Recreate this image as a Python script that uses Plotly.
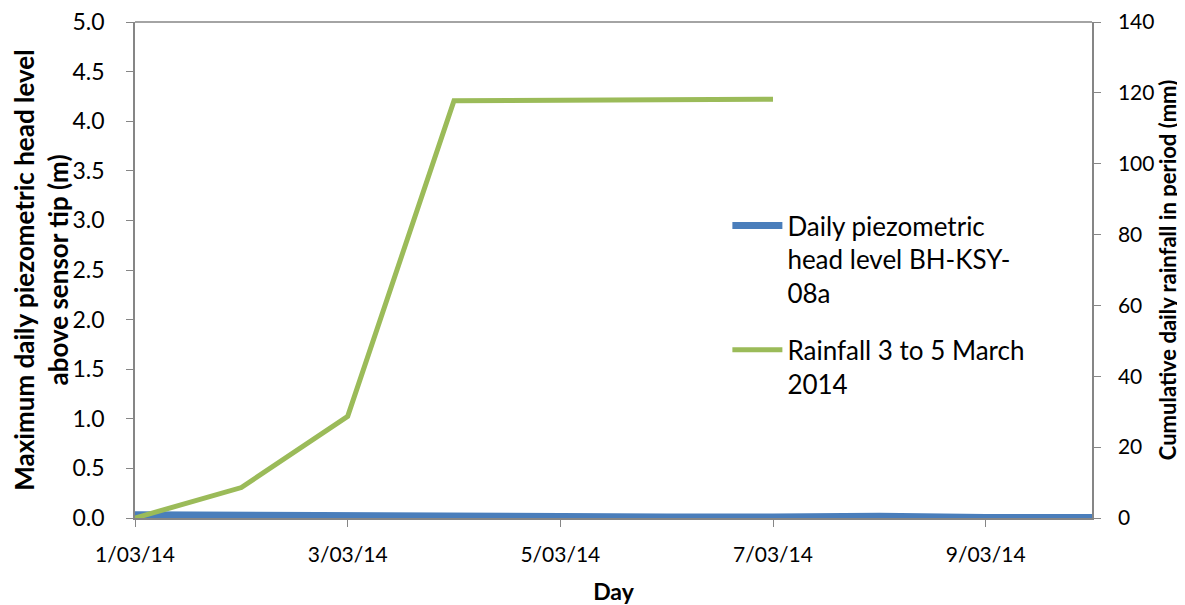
import plotly.graph_objects as go

days = ["2014-03-01", "2014-03-02", "2014-03-03", "2014-03-04", "2014-03-05",
        "2014-03-06", "2014-03-07", "2014-03-08", "2014-03-09", "2014-03-10"]
head_level = [0.034, 0.026, 0.029, 0.016, 0.012, 0.01, 0.011, 0.018, 0.006, 0.004]
rain_days = ["2014-03-01", "2014-03-02", "2014-03-03", "2014-03-04", "2014-03-05",
             "2014-03-06", "2014-03-07"]
rainfall = [0, 8.6, 28.7, 117.8, 117.9, 118.0, 118.2]
tick_vals = ["2014-03-01", "2014-03-03", "2014-03-05", "2014-03-07", "2014-03-09"]
tick_text = ["1/03/14", "3/03/14", "5/03/14", "7/03/14", "9/03/14"]
left_ticks = [0, 0.5, 1, 1.5, 2, 2.5, 3, 3.5, 4, 4.5, 5]
right_ticks = [0, 20, 40, 60, 80, 100, 120, 140]

FONT = "Lato"
AX = "#868686"

fig = go.Figure()
fig.add_trace(go.Scatter(x=days, y=head_level, mode="lines", legendgroup="a",
                         name="Daily piezometric<br>head level BH-KSY-<br>08a",
                         line=dict(color="#4a7ebb", width=7)))
fig.add_trace(go.Scatter(x=rain_days, y=rainfall, mode="lines", yaxis="y2", legendgroup="b",
                         name="Rainfall 3 to 5 March<br>2014",
                         line=dict(color="#9bbb59", width=5)))

fig.update_layout(
    width=1177, height=597,
    margin=dict(l=127, r=93, t=14, b=87, autoexpand=False),
    paper_bgcolor="white", plot_bgcolor="white",
    font=dict(family=FONT, color="black"),
    showlegend=True,
    legend=dict(x=0.619, y=0.637, xanchor="left", yanchor="top", valign="top",
                font=dict(size=26, family=FONT), bgcolor="rgba(0,0,0,0)",
                tracegroupgap=20, itemwidth=50),
    xaxis=dict(range=["2014-03-01", "2014-03-10"], tickvals=tick_vals, ticktext=tick_text,
               showgrid=False, zeroline=False, showline=True, linecolor=AX, linewidth=1.5,
               ticks="outside", tickcolor=AX, ticklen=7, ticklabelstandoff=10,
               ticklabeloverflow="allow",
               tickfont=dict(size=21), automargin=False,
               title=dict(text="<b>Day</b>", font=dict(size=23), standoff=22)),
    yaxis=dict(range=[0, 5], tickvals=left_ticks, tickformat=".1f",
               showgrid=False, zeroline=False, showline=True, linecolor=AX, linewidth=1.5,
               ticks="outside", tickcolor=AX, ticklen=7, ticklabelstandoff=17,
               ticklabeloverflow="allow",
               tickfont=dict(size=23), automargin=False,
               title=dict(text="<b>Maximum daily piezometric head level<br>above sensor tip (m)</b>",
                          font=dict(size=26), standoff=6)),
    yaxis2=dict(range=[0, 140], tickvals=right_ticks, overlaying="y", side="right",
                showgrid=False, zeroline=False, showline=True, linecolor=AX, linewidth=1.5,
                ticks="outside", tickcolor=AX, ticklen=7, ticklabelstandoff=13,
                ticklabeloverflow="allow",
                tickfont=dict(size=21), automargin=False,
                title=dict(text="<b>Cumulative daily rainfall in period (mm)</b>",
                           font=dict(size=22), standoff=1)),
)
fig.add_shape(type="line", xref="paper", yref="paper", x0=0, x1=1, y0=1, y1=1,
              line=dict(color=AX, width=1.5))

fig.write_html("out.html")
